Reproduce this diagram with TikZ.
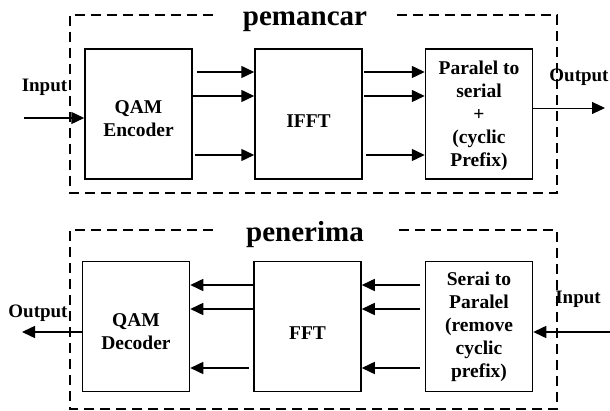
\documentclass[tikz,border=0pt]{standalone}
\usepackage{fontspec}
\setmainfont{Liberation Serif}
\usetikzlibrary{arrows.meta}
\begin{document}
\begin{tikzpicture}[x=1pt,y=-1pt,
 blk/.style={draw,line width=1.5pt,minimum width=107pt,minimum height=130pt,inner sep=0pt},
 btxt/.style={align=center,font=\fontsize{19.5}{23}\selectfont\bfseries,inner sep=0pt},
 arr/.style={line width=1.5pt,-{Triangle[length=13pt,width=12pt]}},
 thinarr/.style={line width=0.9pt,-{Triangle[length=13pt,width=12pt]}},
 grp/.style={line width=1.2pt,dash pattern=on 10pt off 6pt},
 lbl/.style={font=\fontsize{19}{22}\selectfont\bfseries,inner sep=0pt,anchor=base},
 ttl/.style={font=\fontsize{29}{32}\selectfont\bfseries,inner sep=0pt,anchor=base}]
\useasboundingbox (0,0) rectangle (610,411);

% ---- pemancar ----
\node[ttl] (t1) at (305,26) {pemancar};
\draw[grp] (213,15) -- (70,15) -- (70,193) -- (557,193) -- (557,15) -- (397,15);
\node[blk] (enc) at (138.5,114) {};
\node[btxt,yshift=-5pt] (enct) at (enc) {QAM\\Encoder};
\node[blk] (ifft) at (308.5,114) {};
\node[btxt,yshift=-7pt] (ifftt) at (ifft) {IFFT};
\node[blk] (p2s) at (479,114) {};
\node[btxt,yshift=-2pt] (p2st) at (p2s) {Paralel to\\serial\\+\\(cyclic\\Prefix)};

\coordinate (in1) at (24,118);
\draw[arr] (in1) -- (enc.west |- in1);
\node[lbl] (inl1) at (44.5,92) {Input};

\coordinate (a1) at (197,72);
\coordinate (a2) at (193,96);
\coordinate (a3) at (195,155);
\draw[arr] (a1) -- (ifft.west |- a1);
\draw[arr] (a2) -- (ifft.west |- a2);
\draw[arr] (a3) -- (ifft.west |- a3);

\coordinate (b1) at (364,72);
\coordinate (b2) at (364,96);
\coordinate (b3) at (366,155);
\draw[arr] (b1) -- (p2s.west |- b1);
\draw[arr] (b2) -- (p2s.west |- b2);
\draw[arr] (b3) -- (p2s.west |- b3);

\coordinate (out1) at (605,108);
\draw[thinarr] (p2s.east |- out1) -- (out1);
\node[lbl] (outl1) at (579,82) {Output};

% ---- penerima ----
\node[ttl] (t2) at (305,242) {penerima};
\draw[grp] (213,230) -- (70,230) -- (70,409) -- (557,409) -- (557,230) -- (397,230);
\node[blk] (dec) at (136,326.5) {};
\node[btxt,yshift=-5pt] (dect) at (dec) {QAM\\Decoder};
\node[blk] (fft) at (307.5,326.5) {};
\node[btxt,yshift=-7pt] (fftt) at (fft) {FFT};
\node[blk] (s2p) at (479,326.5) {};
\node[btxt] (s2pt) at (s2p) {Serai to\\Paralel\\(remove\\cyclic\\prefix)};

\coordinate (c1) at (420,285);
\coordinate (c2) at (420,309);
\coordinate (c3) at (420,368);
\draw[arr] (c1) -- (fft.east |- c1);
\draw[arr] (c2) -- (fft.east |- c2);
\draw[arr] (c3) -- (fft.east |- c3);

\coordinate (d1) at (253,285);
\coordinate (d2) at (253,309);
\coordinate (d3) at (249,368);
\draw[arr] (d1) -- (dec.east |- d1);
\draw[arr] (d2) -- (dec.east |- d2);
\draw[arr] (d3) -- (dec.east |- d3);

\coordinate (out2) at (22,332);
\draw[arr] (dec.west |- out2) -- (out2);
\node[lbl] (outl2) at (38,318) {Output};

\coordinate (in2) at (610,332);
\draw[arr] (in2) -- (s2p.east |- in2);
\node[lbl] (inl2) at (578,304) {Input};
\end{tikzpicture}
\end{document}
